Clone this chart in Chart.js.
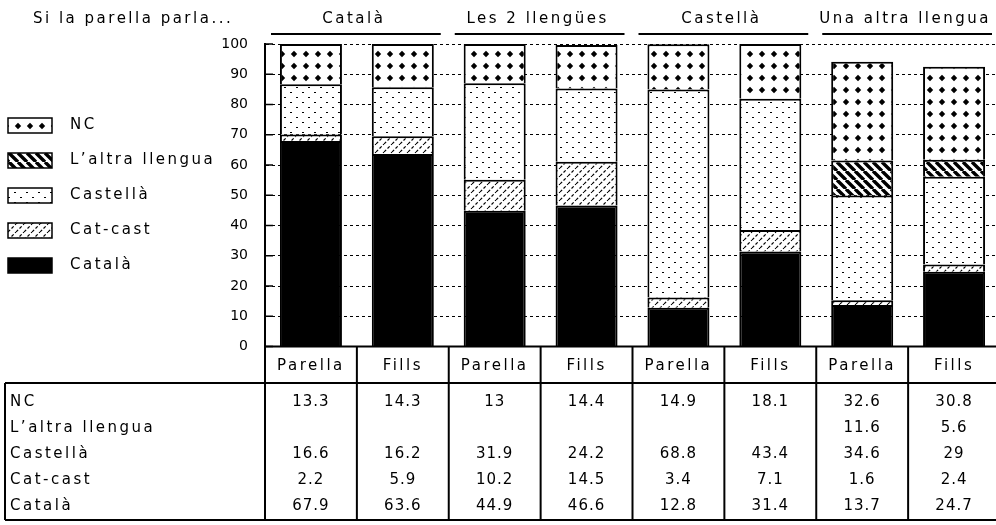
<!DOCTYPE html>
<html lang="ca">
<head>
<meta charset="UTF-8">
<title>Si la parella parla...</title>
<script src="https://cdn.jsdelivr.net/npm/chart.js"></script>
<style>
  html, body { margin: 0; padding: 0; background: #fff; overflow: hidden; }
  #wrap { position: relative; width: 1000px; height: 525px; }
</style>
</head>
<body>
<div id="wrap"><canvas id="chart"></canvas></div>
<script>
// Columns: two bars (couple / children) per language group
const categories = ['Parella', 'Fills', 'Parella', 'Fills', 'Parella', 'Fills', 'Parella', 'Fills'];
const groups = ['Català', 'Les 2 llengües', 'Castellà', 'Una altra llengua'];
const yTicks = [0, 10, 20, 30, 40, 50, 60, 70, 80, 90, 100];

// Percentages per column
const nc       = [13.3, 14.3, 13, 14.4, 14.9, 18.1, 32.6, 30.8];
const altra    = [null, null, null, null, null, null, 11.6, 5.6];
const castella = [16.6, 16.2, 31.9, 24.2, 68.8, 43.4, 34.6, 29];
const catCast  = [2.2, 5.9, 10.2, 14.5, 3.4, 7.1, 1.6, 2.4];
const catala   = [67.9, 63.6, 44.9, 46.6, 12.8, 31.4, 13.7, 24.7];

const TEXT_FONT = '15px "DejaVu Sans"';
const NUM_FONT = '15px "DejaVu Sans"';

const ctx = document.getElementById('chart').getContext('2d');

// small repeating fills, black on white
function makePattern(w, h, draw) {
  const c = document.createElement('canvas');
  c.width = w; c.height = h;
  const g = c.getContext('2d');
  g.fillStyle = '#fff';
  g.fillRect(0, 0, w, h);
  g.fillStyle = '#000';
  g.strokeStyle = '#000';
  draw(g);
  return ctx.createPattern(c, 'repeat');
}

const fills = {
  nc: makePattern(12, 12, g => {
    g.beginPath();
    g.moveTo(6, 2.8); g.lineTo(9.2, 6); g.lineTo(6, 9.2); g.lineTo(2.8, 6);
    g.closePath();
    g.fill();
  }),
  altra: makePattern(9, 9, g => {
    g.lineWidth = 3.4;
    g.beginPath();
    for (let k = -9; k <= 9; k += 9) { g.moveTo(k, 0); g.lineTo(k + 9, 9); }
    g.stroke();
  }),
  castella: makePattern(12, 10, g => {
    g.fillRect(2, 2, 2, 1);
    g.fillRect(8, 7, 2, 1);
  }),
  catCast: makePattern(8, 8, g => {
    g.lineWidth = 1.2;
    g.setLineDash([3, 2]);
    g.beginPath();
    for (let k = -8; k <= 8; k += 8) { g.moveTo(k, 8); g.lineTo(k + 8, 0); }
    g.stroke();
  }),
  catala: '#000'
};

// bottom to top in the stack
const series = [
  { label: 'Català', data: catala, fill: fills.catala },
  { label: 'Cat-cast', data: catCast, fill: fills.catCast },
  { label: 'Castellà', data: castella, fill: fills.castella },
  { label: 'L’altra llengua', data: altra, fill: fills.altra },
  { label: 'NC', data: nc, fill: fills.nc }
];
const rows = series.slice().reverse();

function line(c, x1, y1, x2, y2) {
  c.beginPath();
  c.moveTo(x1, y1);
  c.lineTo(x2, y2);
  c.stroke();
}

// headers, legend, inward ticks and the data table under the bars
const sheet = {
  id: 'sheet',
  afterDraw(chart) {
    const { ctx: c, chartArea: a, scales: { x, y } } = chart;
    const half = (x.getPixelForValue(1) - x.getPixelForValue(0)) / 2;
    const colLeft = i => x.getPixelForValue(i) - half;
    const colRight = i => x.getPixelForValue(i) + half;
    const headTop = a.bottom;
    const tableTop = 383;
    const tableBottom = 520;
    const tableLeft = 5;
    const right = colRight(categories.length - 1);

    c.save();
    c.strokeStyle = '#000';
    c.fillStyle = '#000';

    c.lineWidth = 1.5;
    yTicks.forEach(v => {
      const py = y.getPixelForValue(v);
      line(c, a.left, py, a.left + 8, py);
    });

    c.lineWidth = 2;
    line(c, a.left, a.top, a.left, tableBottom);
    line(c, a.left, headTop, right, headTop);
    line(c, tableLeft, tableTop, right, tableTop);
    line(c, tableLeft, tableBottom, right, tableBottom);
    line(c, tableLeft, tableTop, tableLeft, tableBottom);
    categories.forEach((_, i) => line(c, colRight(i), headTop, colRight(i), tableBottom));

    // title and group headers
    c.font = TEXT_FONT;
    c.letterSpacing = '2.5px';
    c.textBaseline = 'middle';
    c.textAlign = 'left';
    c.fillText('Si la parella parla...', 33, 19);
    c.textAlign = 'center';
    groups.forEach((g, k) => {
      const l = colLeft(2 * k), r = colRight(2 * k + 1);
      c.fillText(g, (l + r) / 2 - 3, 19);
      line(c, l + 6, 34, r - 8, 34);
    });

    // column captions
    categories.forEach((cat, i) => c.fillText(cat, x.getPixelForValue(i), 366));

    // legend
    c.textAlign = 'left';
    rows.forEach((s, k) => {
      const cy = 125 + k * 35;
      c.fillStyle = s.fill;
      c.fillRect(8, cy - 7, 44, 15);
      c.lineWidth = 1.5;
      c.strokeRect(8, cy - 7, 44, 15);
      c.fillStyle = '#000';
      c.fillText(s.label, 70, cy);
    });

    // table rows
    rows.forEach((s, k) => {
      const cy = 402 + k * 26;
      c.font = TEXT_FONT;
      c.letterSpacing = '2.5px';
      c.textAlign = 'left';
      c.fillText(s.label, 10, cy);
      c.font = NUM_FONT;
      c.letterSpacing = '1px';
      c.textAlign = 'center';
      s.data.forEach((v, i) => {
        if (v !== null) c.fillText(String(v), x.getPixelForValue(i), cy);
      });
    });
    c.restore();
  }
};

new Chart(ctx, {
  type: 'bar',
  data: {
    labels: categories,
    datasets: series.map(s => ({
      label: s.label,
      data: s.data,
      backgroundColor: s.fill,
      borderColor: '#000',
      borderWidth: { top: 2, left: 2, right: 2, bottom: 0 },
      borderSkipped: false,
      barPercentage: 0.675,
      categoryPercentage: 1
    }))
  },
  options: {
    responsive: true,
    maintainAspectRatio: false,
    animation: false,
    layout: { padding: { top: 44, bottom: 178.5, left: 0, right: 0 } },
    plugins: { legend: { display: false }, tooltip: { enabled: false } },
    scales: {
      x: { stacked: true, display: false },
      y: {
        stacked: true,
        min: 0,
        max: 100,
        afterFit: s => { s.width = 265; },
        ticks: {
          stepSize: 10,
          color: '#000',
          padding: 17,
          font: { family: 'DejaVu Sans', size: 14 }
        },
        grid: { color: '#000', lineWidth: 1, drawTicks: false },
        border: { display: true, color: '#000', width: 2, dash: [3, 3] }
      }
    }
  },
  plugins: [sheet]
});
</script>
</body>
</html>
